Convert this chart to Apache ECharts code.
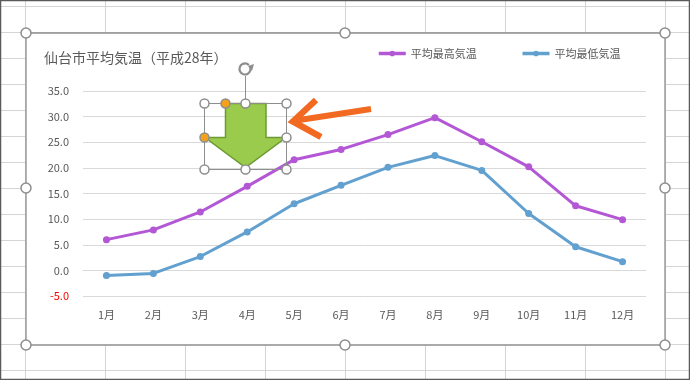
<!DOCTYPE html>
<html>
<head>
<meta charset="utf-8">
<script src="https://cdn.jsdelivr.net/npm/echarts@6/dist/echarts.min.js"></script>
<style>
html,body{margin:0;padding:0;background:#fff;}
#main{width:690px;height:380px;}
</style>
</head>
<body>
<div id="main"></div>
<script>
const categories = ['1月','2月','3月','4月','5月','6月','7月','8月','9月','10月','11月','12月'];
const maxTemp = [6.0, 7.9, 11.4, 16.4, 21.6, 23.6, 26.5, 29.8, 25.1, 20.2, 12.6, 9.9];
const minTemp = [-1.0, -0.6, 2.7, 7.5, 13.0, 16.6, 20.1, 22.4, 19.5, 11.1, 4.6, 1.7];
const seriesNames = ['平均最高気温', '平均最低気温'];
const titleText = '仙台市平均気温（平成28年）';

const FONT = '"Noto Sans CJK JP", "Noto Sans", sans-serif';
const chart = echarts.init(document.getElementById('main'), null, {renderer: 'canvas'});

// decorative spreadsheet background
const bg = [];
bg.push({type: 'rect', z: -20, silent: true, shape: {x: 0, y: 0, width: 690, height: 380}, style: {fill: '#ffffff'}});
for (let x = 25; x <= 690; x += 80) {
  bg.push({type: 'line', z: -19, silent: true, shape: {x1: x + 0.5, y1: 0, x2: x + 0.5, y2: 380}, style: {stroke: '#d4d4d4', lineWidth: 1}});
}
for (let y = 6; y <= 380; y += 26) {
  bg.push({type: 'line', z: -19, silent: true, shape: {x1: 0, y1: y + 0.5, x2: 690, y2: y + 0.5}, style: {stroke: '#d4d4d4', lineWidth: 1}});
}
bg.push({type: 'rect', z: -18, silent: true, shape: {x: 26, y: 33, width: 639, height: 312}, style: {fill: '#ffffff', stroke: '#8e8e8e', lineWidth: 1.3}});
bg.push({type: 'rect', z: 200, silent: true, shape: {x: 0.5, y: 0.5, width: 689, height: 379}, style: {fill: 'none', stroke: '#5a5a5a', lineWidth: 1.5}});
const handles = [[26,33],[345,33],[665,33],[26,188],[665,188],[26,345],[345,345],[665,345]];
handles.forEach(p => bg.push({type: 'circle', z: 150, silent: true, shape: {cx: p[0], cy: p[1], r: 5}, style: {fill: '#ffffff', stroke: '#8e8e8e', lineWidth: 1.5}}));

// green down-arrow shape overlay
bg.push({type: 'polygon', z: 120, silent: true, shape: {points: [[225.5,103.5],[266,103.5],[266,137.5],[286,137.5],[245.5,167.5],[205,137.5],[225.5,137.5]]}, style: {fill: '#9bcb4c', stroke: '#6d9a32', lineWidth: 1.5}});
bg.push({type: 'rect', z: 121, silent: true, shape: {x: 204.5, y: 103.5, width: 82, height: 66}, style: {fill: 'none', stroke: '#8e8e8e', lineWidth: 1}});
bg.push({type: 'line', z: 121, silent: true, shape: {x1: 245.5, y1: 76, x2: 245.5, y2: 103}, style: {stroke: '#8e8e8e', lineWidth: 1}});
[[204.5,103.5],[245.5,103.5],[286.5,103.5],[286.5,137.5],[204.5,169.5],[245.5,169.5],[286.5,169.5]].forEach(p =>
  bg.push({type: 'circle', z: 122, silent: true, shape: {cx: p[0], cy: p[1], r: 4.5}, style: {fill: '#ffffff', stroke: '#8e8e8e', lineWidth: 1.5}}));
[[225.5,103.5],[204.5,137.5]].forEach(p =>
  bg.push({type: 'circle', z: 123, silent: true, shape: {cx: p[0], cy: p[1], r: 4.5}, style: {fill: '#f5a01a', stroke: '#8e8e8e', lineWidth: 1.5}}));
// rotation handle
bg.push({type: 'arc', z: 122, silent: true, shape: {cx: 245, cy: 69, r: 5.5, startAngle: -Math.PI * 0.15, endAngle: Math.PI * 1.75, clockwise: true}, style: {fill: 'none', stroke: '#8e8e8e', lineWidth: 2.2}});
bg.push({type: 'polygon', z: 122, silent: true, shape: {points: [[248,66],[254,64],[252,71]]}, style: {fill: '#8e8e8e'}});

// orange arrow overlay
bg.push({type: 'line', z: 125, silent: true, shape: {x1: 371, y1: 109, x2: 296, y2: 120.5}, style: {stroke: '#f26a21', lineWidth: 6}});
bg.push({type: 'polyline', z: 125, silent: true, shape: {points: [[316,100],[293,121.5],[321,137]]}, style: {stroke: '#f26a21', lineWidth: 6.5, lineJoin: 'miter'}});

const option = {
  animation: false,
  textStyle: {fontFamily: FONT},
  title: {
    text: titleText, left: 39, top: 46,
    textStyle: {fontFamily: FONT, fontSize: 14, fontWeight: 'normal', color: '#595959'}
  },
  legend: {
    data: seriesNames, left: 377, top: 48, padding: 0, itemWidth: 27, itemHeight: 7, itemGap: 44,
    lineStyle: {width: 3.5},
    textStyle: {fontFamily: FONT, fontSize: 11, color: '#595959'}
  },
  grid: {left: 83, right: 44, top: 91, bottom: 84, containLabel: false},
  xAxis: {
    type: 'category', data: categories, boundaryGap: true,
    axisLine: {show: true, onZero: true, lineStyle: {color: '#d9d9d9'}},
    axisTick: {show: false},
    axisLabel: {fontFamily: FONT, fontSize: 11, color: '#595959', margin: 13},
    splitLine: {show: false}
  },
  yAxis: {
    type: 'value', min: -5, max: 35, interval: 5,
    axisLine: {show: false}, axisTick: {show: false},
    axisLabel: {
      fontFamily: FONT, fontSize: 11, margin: 14,
      formatter: v => v.toFixed(1),
      color: v => (Number(v) < 0 ? '#ff0000' : '#595959')
    },
    splitLine: {lineStyle: {color: '#d9d9d9', width: 1}}
  },
  series: [
    {name: seriesNames[0], type: 'line', data: maxTemp, symbol: 'circle', symbolSize: 7,
     itemStyle: {color: '#b357d5'}, lineStyle: {width: 3, color: '#b357d5'}, z: 5},
    {name: seriesNames[1], type: 'line', data: minTemp, symbol: 'circle', symbolSize: 7,
     itemStyle: {color: '#62a0d0'}, lineStyle: {width: 3, color: '#62a0d0'}, z: 5}
  ],
  graphic: {elements: bg}
};
chart.setOption(option);
</script>
</body>
</html>
